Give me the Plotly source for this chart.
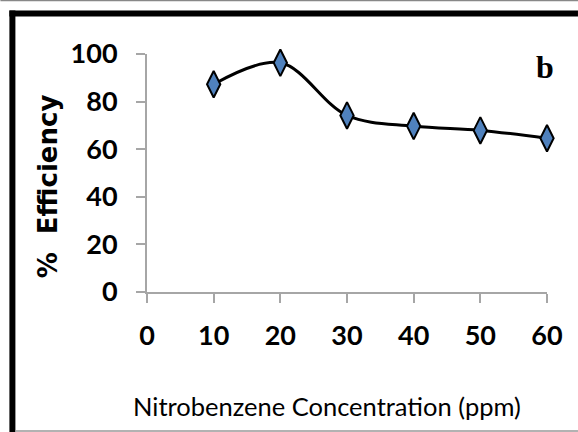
import plotly.graph_objects as go

concentration = [10, 20, 30, 40, 50, 60]
efficiency = [87.3, 96.3, 74.2, 69.7, 67.9, 64.6]
x_ticks = [0, 10, 20, 30, 40, 50, 60]
y_ticks = [0, 20, 40, 60, 80, 100]

W, H = 578, 432
L, R, T, B = 146.7, 31, 54, 140
pw, ph = W - L - R, H - T - B

def px(x):
    return (x - L) / pw

def py(y):
    return (H - B - y) / ph

fig = go.Figure()
fig.add_trace(go.Scatter(
    x=concentration, y=efficiency, mode="lines+markers",
    line=dict(color="black", width=3, shape="spline", smoothing=1.0),
    marker=dict(symbol="diamond-tall", size=19, color="#4F81BD",
                line=dict(color="black", width=2)),
    showlegend=False, cliponaxis=False,
))

tickfont = dict(family="Lato", size=27, color="black", weight="bold")
fig.update_layout(
    width=W, height=H,
    margin=dict(l=L, r=R, t=T, b=B, autoexpand=False),
    paper_bgcolor="white", plot_bgcolor="white",
    xaxis=dict(range=[0, 60], tickvals=x_ticks, ticks="outside", ticklen=9,
               tickcolor="#A6A6A6", tickwidth=2, showline=True, linecolor="#A6A6A6",
               linewidth=2, showgrid=False, zeroline=False, tickfont=tickfont,
               ticklabelstandoff=10),
    yaxis=dict(range=[0, 100], tickvals=y_ticks, ticks="outside", ticklen=9,
               tickcolor="#A6A6A6", tickwidth=2, showline=True, linecolor="#A6A6A6",
               linewidth=2, showgrid=False, zeroline=False, tickfont=tickfont,
               ticklabelstandoff=13),
    font=dict(family="Lato"),
)

fig.add_annotation(x=px(327), y=py(406), xref="paper", yref="paper",
                   xanchor="center", yanchor="middle",
                   text="Nitrobenzene Concentration (ppm)", showarrow=False,
                   font=dict(family="Lato", size=25.5, color="black"))

fig.add_annotation(x=px(48), y=py(186), xref="paper", yref="paper",
                   xanchor="center", yanchor="middle", textangle=-90,
                   text="%\u00a0 Efficiency", showarrow=False,
                   font=dict(family="DejaVu Sans", size=26, color="black", weight="bold"))

fig.add_annotation(x=px(545), y=py(67), xref="paper", yref="paper", text="b",
                   xanchor="center", yanchor="middle",
                   showarrow=False, font=dict(family="Liberation Serif", size=32,
                                              color="black", weight="bold"))

# frame lines
fig.add_shape(type="line", xref="paper", yref="paper", x0=px(0), x1=px(W), y0=py(0.5), y1=py(0.5),
              line=dict(color="#888888", width=1.5))
fig.add_shape(type="line", xref="paper", yref="paper", x0=px(9), x1=px(W), y0=py(13.5), y1=py(13.5),
              line=dict(color="black", width=6))
fig.add_shape(type="line", xref="paper", yref="paper", x0=px(12), x1=px(12), y0=py(10.5), y1=py(H),
              line=dict(color="black", width=6))
fig.add_shape(type="line", xref="paper", yref="paper", x0=px(15), x1=px(W), y0=py(431), y1=py(431),
              line=dict(color="#999999", width=1.5))

fig.write_html("out.html")
